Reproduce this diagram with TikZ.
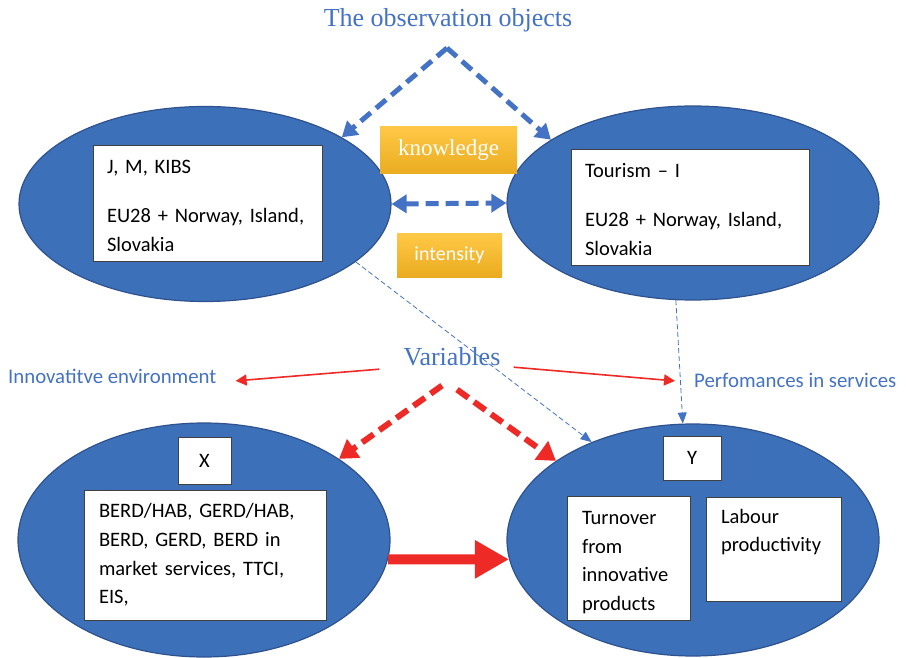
\documentclass[tikz,border=0pt]{standalone}
\usepackage{fontspec}
\setmainfont{Liberation Serif}
\newfontfamily\carlito{Carlito}
\usetikzlibrary{shapes.geometric,arrows.meta}
\definecolor{ovalblue}{RGB}{60,112,184}
\definecolor{ovalrim}{RGB}{47,82,143}
\definecolor{headblue}{RGB}{68,114,196}
\definecolor{arrowred}{RGB}{237,42,38}
\definecolor{goldtop}{RGB}{255,200,70}
\definecolor{goldbot}{RGB}{234,172,32}
\definecolor{boxrim}{RGB}{64,64,64}

\begin{document}
\begin{tikzpicture}[x=1pt,y=-1pt]
    \tikzset{
        oval/.style={ellipse,fill=ovalblue,draw=ovalrim,line width=1.2pt,inner sep=0pt},
        whitebox/.style={rectangle,fill=white,draw=boxrim,line width=0.9pt,
            font=\carlito\fontsize{20.5}{28.7}\selectfont,align=left,inner xsep=14pt,inner ysep=0pt},
        letterbox/.style={rectangle,fill=white,draw=boxrim,line width=0.9pt,
            font=\carlito\fontsize{20.5}{24}\selectfont,inner sep=0pt},
        goldbox/.style={rectangle,top color=goldtop,bottom color=goldbot,text=white,inner sep=0pt},
        heading/.style={text=headblue,font=\fontsize{26}{30}\selectfont,inner sep=0pt},
        side/.style={text=headblue,font=\carlito\fontsize{20.8}{24}\selectfont,inner sep=0pt},
        bluedash/.style={draw=headblue,line width=5pt,dash pattern=on 13pt off 7pt},
        bluethin/.style={draw=headblue,line width=0.8pt,dash pattern=on 5pt off 3pt,
            -{Triangle[width=9pt,length=11pt]}},
        redthin/.style={draw=arrowred,line width=1.6pt,-{Triangle[width=11pt,length=11pt]}},
        reddash/.style={draw=arrowred,line width=6pt,dash pattern=on 14pt off 7pt,
            -{Triangle[width=22pt,length=18pt]}},
        redbig/.style={draw=arrowred,line width=10pt,-{Triangle[width=36pt,length=34pt]}},
    }
    \useasboundingbox (0,0) rectangle (906,658);

    % observation objects
    \node[oval,minimum width=372,minimum height=195] (objL) at (205,204) {};
    \node[oval,minimum width=372,minimum height=194] (objR) at (693,203) {};
    \node[whitebox,minimum height=116,text width=201] (boxL) at (207.5,203)
        {\rule{0pt}{19pt}J, M, KIBS\\[20.3pt]EU28 + Norway, Island,\\Slovakia};
    \node[whitebox,minimum height=116,text width=210] (boxR) at (690,207)
        {\rule{0pt}{19pt}Tourism – I\\[20.3pt]EU28 + Norway, Island,\\Slovakia};

    % variables
    \node[oval,minimum width=372,minimum height=234] (objX) at (204,540) {};
    \node[oval,minimum width=372,minimum height=232] (objY) at (693,540) {};
    \node[letterbox,minimum width=53,minimum height=47] (xbox) at (204.5,460.5) {X};
    \node[letterbox,minimum width=58,minimum height=44] (ybox) at (692,458) {Y};
    \node[whitebox,inner xsep=15pt,minimum height=130,text width=212] (berd) at (205,555)
        {BERD/HAB, GERD/HAB,\\BERD, GERD, BERD in\\market services, TTCI,\\EIS,};
    \node[whitebox,inner xsep=15pt,minimum height=124,text width=93] (turn) at (628.5,558)
        {\rule{0pt}{22pt}Turnover\\from\\innovative\\products};
    \node[whitebox,inner xsep=15pt,minimum height=104,text width=105] (labour) at (773.5,549)
        {Labour\\productivity\\\strut};

    \node[goldbox,minimum width=137,minimum height=47,font=\fontsize{23}{26}\selectfont]
        (know) at (448.5,150.5) {knowledge};
    \node[goldbox,minimum width=105,minimum height=43,font=\carlito\fontsize{20}{24}\selectfont]
        (inten) at (449.5,255.5) {intensity};

    \node[heading,anchor=base] (title) at (448,27) {The observation objects};
    \node[heading,anchor=base] (vars) at (452,365) {Variables};
    \node[side,anchor=base west] (innov) at (8,383) {Innovatitve environment};
    \node[side,anchor=base west] (perf) at (694,387) {Perfomances in services};

    \coordinate (apex) at (447,48);
    \draw[bluedash,-{Triangle[width=18pt,length=15pt]}] (apex) -- (objL.26);
    \draw[bluedash,-{Triangle[width=18pt,length=15pt]}] (apex) -- (objR.156);
    \draw[bluedash,{Triangle[width=18pt,length=15pt]}-{Triangle[width=18pt,length=15pt]}]
        (objL.east) -- (objR.west);

    \draw[bluethin] (objL.-21) -- (objY.136);
    \draw[bluethin] (objR.-100) -- (objY.95);

    \draw[redthin] ([shift={(-24,13)}]vars.west) -- ([shift={(19,5)}]innov.east);
    \draw[redthin] ([shift={(13,11)}]vars.east) -- ([shift={(-19,1)}]perf.west);
    \draw[reddash] ([shift={(-10,20)}]vars.south) -- (objX.31);
    \draw[reddash] ([shift={(5,24)}]vars.south) -- (objY.150);
    \draw[redbig] (objX.-6) -- (objY.186);
\end{tikzpicture}
\end{document}
